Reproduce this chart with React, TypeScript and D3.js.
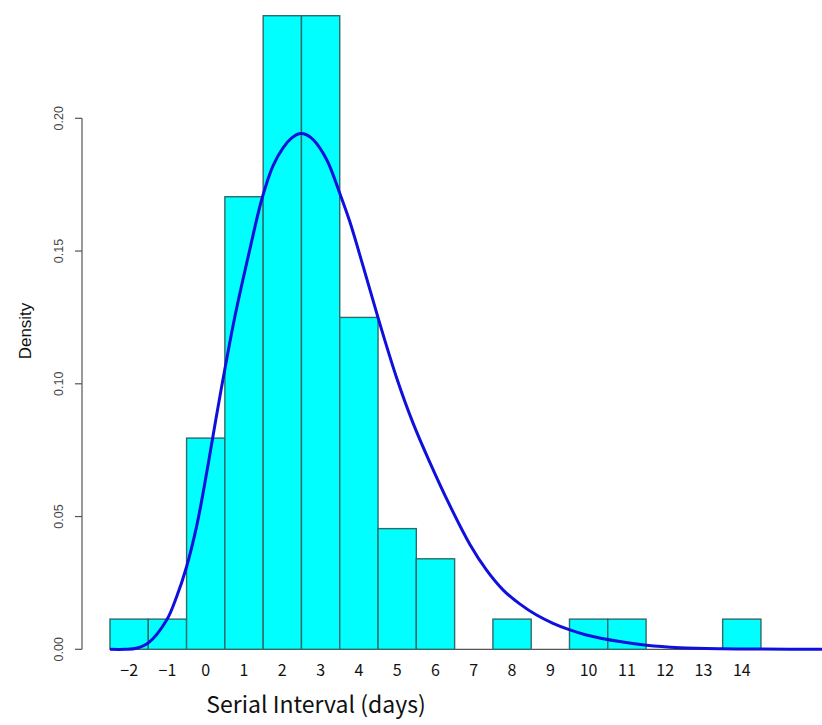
import React from "react";
import * as d3 from "d3";

const binCenters = [-2, -1, 0, 1, 2, 3, 4, 5, 6, 7, 8, 9, 10, 11, 12, 13, 14];
const binCounts = [1, 1, 7, 15, 21, 21, 11, 4, 3, 0, 1, 0, 1, 1, 0, 0, 1];
const xTickValues = [-2, -1, 0, 1, 2, 3, 4, 5, 6, 7, 8, 9, 10, 11, 12, 13, 14];
const yTickValues = [0, 0.05, 0.1, 0.15, 0.2];
const yTickLabels = ["0.00", "0.05", "0.10", "0.15", "0.20"];

const curveX = [-2.5, -2.1, -1.81, -1.49, -1.02, -0.76, -0.5, -0.24, -0.07, 0.18, 0.37, 0.75, 1.15, 1.47, 1.76, 2.02, 2.24, 2.44, 2.63, 2.81, 3.16, 3.5, 3.76, 4.11, 4.5, 4.98, 5.42, 5.85, 6.33, 6.9, 7.33, 7.77, 8.2, 8.64, 9.07, 9.51, 9.94, 10.81, 11.51, 12.38, 13.5, 14.5, 16.2];
const curveY = [0, 0, 0.0004, 0.0025, 0.011, 0.0198, 0.0311, 0.0462, 0.0588, 0.0795, 0.0952, 0.1245, 0.1505, 0.1698, 0.1822, 0.1889, 0.1925, 0.1942, 0.1938, 0.1919, 0.1844, 0.1718, 0.1612, 0.1443, 0.1249, 0.1025, 0.085, 0.0705, 0.0555, 0.0395, 0.0299, 0.0223, 0.0171, 0.0129, 0.0098, 0.0073, 0.0054, 0.0029, 0.0015, 0.0006, 0.0002, 0.0001, 0];

export default function App() {
  const W = 822, H = 725;
  const x = d3.scaleLinear().domain([-2.5, 16.1]).range([110, 822.2]);
  const y = d3.scaleLinear().domain([0, 0.2]).range([649.3, 118.3]);
  const total = d3.sum(binCounts);
  const bw = 1;

  const line = d3
    .line<number>()
    .x((_, i) => x(curveX[i]))
    .y((d) => y(d))
    .curve(d3.curveCatmullRom.alpha(0.5));

  const tickFont = "'Noto Sans CJK JP', 'DejaVu Sans', sans-serif";
  const arial = "'Liberation Sans', Arial, sans-serif";

  return (
    <svg
      width={W}
      height={H}
      style={{ position: "absolute", left: 0, top: 0, background: "#fff" }}
    >
      <line x1={x(-2.5)} x2={W + 5} y1={y(0)} y2={y(0)} stroke="#555" strokeWidth={1.2} />
      {binCenters.map((c, i) =>
        binCounts[i] > 0 ? (
          <rect
            key={i}
            x={x(c - bw / 2)}
            width={x(c + bw / 2) - x(c - bw / 2)}
            y={y(binCounts[i] / total / bw)}
            height={y(0) - y(binCounts[i] / total / bw)}
            fill="#00FFFF"
            stroke="#2E6B6B"
            strokeWidth={1.4}
          />
        ) : null
      )}
      <path d={line(curveY) || ""} fill="none" stroke="#1010DD" strokeWidth={3} />
      <line x1={82} x2={82} y1={y(0)} y2={y(0.2)} stroke="#555" strokeWidth={1.2} />
      {yTickValues.map((v, i) => (
        <g key={i}>
          <line x1={75} x2={82} y1={y(v)} y2={y(v)} stroke="#555" strokeWidth={1.2} />
          <text
            transform={`translate(62.5,${y(v)}) rotate(-90)`}
            textAnchor="middle"
            fontFamily={arial}
            fontSize={12.5}
            fill="#444"
          >
            {yTickLabels[i]}
          </text>
        </g>
      ))}
      <text
        transform={`translate(31,331) rotate(-90)`}
        textAnchor="middle"
        fontFamily={arial}
        fontSize={17}
        fill="#111"
      >
        Density
      </text>
      {xTickValues.map((v, i) => (
        <text
          key={i}
          x={x(v)}
          y={676}
          textAnchor="middle"
          fontFamily={tickFont}
          fontSize={16}
          fill="#111"
        >
          {v < 0 ? "\u2212" + Math.abs(v) : String(v)}
        </text>
      ))}
      <text
        x={316}
        y={713}
        textAnchor="middle"
        fontFamily={tickFont}
        fontSize={23}
        fill="#111"
      >
        Serial Interval (days)
      </text>
    </svg>
  );
}
